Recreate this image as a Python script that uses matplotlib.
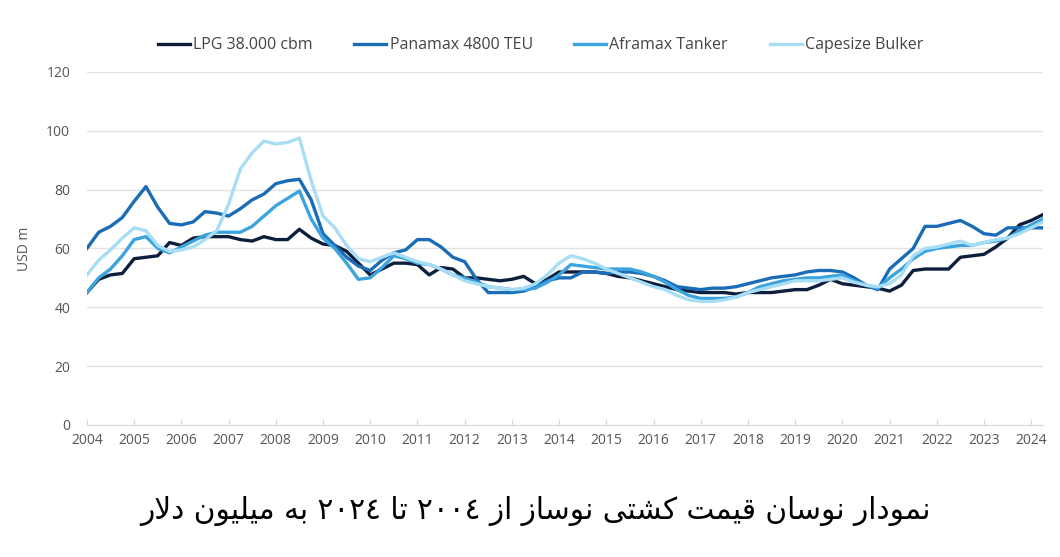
import re
import numpy as np
import matplotlib
matplotlib.use("Agg")
from matplotlib import pyplot as plt

# quarterly values, 2004 Q1 .. 2024 Q2
years = np.arange(2004, 2024.26, 0.25)

lpg = [45, 49.5, 51, 51.5, 56.5, 57, 57.5, 62, 61, 63.5, 64, 64,
       64, 63, 62.5, 64, 63, 63, 66.5, 63.5, 61.5, 61, 59, 55,
       51, 53, 55, 55, 54.5, 51, 53.5, 53, 50, 50, 49.5, 49,
       49.5, 50.5, 48, 49.5, 52, 52, 52, 52, 51.5, 50.5, 50, 49,
       48, 47, 46, 45.5, 45, 45, 45, 44.5, 45, 45, 45, 45.5,
       46, 46, 47.5, 49.5, 48, 47.5, 47, 46.5, 45.5, 47.5, 52.5, 53,
       53, 53, 57, 57.5, 58, 60.5, 63.5, 68, 69.5, 71.5]
panamax = [60, 65.5, 67.5, 70.5, 76, 81, 74, 68.5, 68, 69, 72.5, 72,
           71, 73.5, 76.5, 78.5, 82, 83, 83.5, 76.5, 65, 61, 57, 54,
           52.5, 56, 58.5, 59.5, 63, 63, 60.5, 57, 55.5, 49.5, 45, 45,
           45, 45.5, 47, 49, 50, 50, 52, 52, 51.5, 52, 52, 51.5,
           50.5, 49, 47, 46.5, 46, 46.5, 46.5, 47, 48, 49, 50, 50.5,
           51, 52, 52.5, 52.5, 52, 50, 47.5, 46, 53, 56.5, 60, 67.5,
           67.5, 68.5, 69.5, 67.5, 65, 64.5, 67, 67, 67, 67]
aframax = [45, 50, 53, 57.5, 63, 64, 60, 58.5, 60.5, 62.5, 64.5, 65.5,
           65.5, 65.5, 67.5, 71, 74.5, 77, 79.5, 70, 63.5, 60, 55, 49.5,
           50, 53.5, 57.5, 56.5, 55, 54.5, 53, 51, 50, 48.5, 47, 46.5,
           46, 46, 46.5, 48.5, 51, 54.5, 54, 53.5, 53, 53, 53, 52,
           50.5, 48.5, 46, 44, 43, 43, 43, 43.5, 45, 47, 48, 49,
           49.5, 50, 50, 50.5, 51, 49, 47.5, 46.5, 50, 53, 56.5, 59,
           60, 60.5, 61, 61, 62, 62.5, 63.5, 66, 68, 70]
capesize = [51, 56, 59.5, 63.5, 67, 66, 61, 59, 59.5, 60.5, 63, 66,
            75, 87, 92.5, 96.5, 95.5, 96, 97.5, 83, 71, 67, 61, 56.5,
            55.5, 57, 58.5, 57, 55.5, 54.5, 53, 51, 49, 48, 47, 46.5,
            46, 46.5, 48, 51, 55, 57.5, 56.5, 55, 53, 51.5, 50, 48.5,
            47, 46, 44, 42.5, 42, 42, 42.5, 43.5, 45, 46, 47, 48,
            49, 49, 49, 49.5, 50, 48.5, 47.5, 47, 48, 51, 57.5, 60,
            60.5, 61.5, 62.5, 61, 62, 63, 63.5, 65, 67, 69]

names = ["LPG 38.000 cbm", "Panamax 4800 TEU", "Aframax Tanker", "Capesize Bulker"]
colors = ["#0e1f3d", "#1a6cb6", "#3ba4de", "#a8ddf6"]
title = "نمودار نوسان قیمت کشتی نوساز از ٢٠٠٤ تا ٢٠٢٤ به میلیون دلار"

# --- minimal persian shaping (matplotlib has no bidi / joining) ---
FORMS = {
    "ا": ("\ufe8d", "\ufe8e", None, None),
    "ب": ("\ufe8f", "\ufe90", "\ufe91", "\ufe92"),
    "ت": ("\ufe95", "\ufe96", "\ufe97", "\ufe98"),
    "د": ("\ufea9", "\ufeaa", None, None),
    "ر": ("\ufead", "\ufeae", None, None),
    "ز": ("\ufeaf", "\ufeb0", None, None),
    "س": ("\ufeb1", "\ufeb2", "\ufeb3", "\ufeb4"),
    "ش": ("\ufeb5", "\ufeb6", "\ufeb7", "\ufeb8"),
    "ق": ("\ufed5", "\ufed6", "\ufed7", "\ufed8"),
    "ل": ("\ufedd", "\ufede", "\ufedf", "\ufee0"),
    "م": ("\ufee1", "\ufee2", "\ufee3", "\ufee4"),
    "ن": ("\ufee5", "\ufee6", "\ufee7", "\ufee8"),
    "ه": ("\ufee9", "\ufeea", "\ufeeb", "\ufeec"),
    "و": ("\ufeed", "\ufeee", None, None),
    "ی": ("\ufbfc", "\ufbfd", "\ufbfe", "\ufbff"),
    "ک": ("\ufb8e", "\ufb8f", "\ufb90", "\ufb91"),
}


def shape_fa(s):
    out = []
    i = 0
    while i < len(s):
        c = s[i]
        if c not in FORMS:
            out.append(c)
            i += 1
            continue
        prev = s[i - 1] if i > 0 else " "
        pj = prev in FORMS and FORMS[prev][2] is not None
        nxt = s[i + 1] if i + 1 < len(s) else " "
        if c == "ل" and nxt == "ا":
            out.append("\ufefc" if pj else "\ufefb")
            i += 2
            continue
        nj = FORMS[c][2] is not None and nxt in FORMS
        iso, fin, ini, med = FORMS[c]
        if pj and nj:
            out.append(med)
        elif pj:
            out.append(fin)
        elif nj:
            out.append(ini)
        else:
            out.append(iso)
        i += 1
    vis = "".join(out)[::-1]
    return re.sub("[\u0660-\u0669]+", lambda m: m.group(0)[::-1], vis)


plt.rcParams["font.family"] = ["Open Sans", "DejaVu Sans"]

fig = plt.figure(figsize=(10.6, 5.57), dpi=100)
ax = fig.add_axes([0.082, 0.237, 0.902, 0.634])

series = [lpg, panamax, aframax, capesize]
for vals, name, col in zip(series, names, colors):
    ax.plot(years, vals, color=col, lw=2.4, label=name, solid_joinstyle="round")

ax.set_xlim(2004, 2024.25)
ax.set_ylim(0, 120)
ax.set_yticks(range(0, 121, 20))
ax.set_xticks(range(2004, 2025))
ax.grid(axis="y", color="#e2e2e2", lw=1)
ax.set_axisbelow(True)
for side in ["top", "right", "left"]:
    ax.spines[side].set_visible(False)
ax.spines["bottom"].set_color("#d8d8d8")
ax.tick_params(axis="y", length=0, pad=12, labelsize=10, labelcolor="#555555")
ax.tick_params(axis="x", direction="in", length=4, color="#d8d8d8",
               pad=6, labelsize=10, labelcolor="#555555")
ax.set_ylabel("USD m", fontsize=10, color="#555555", labelpad=10)

fig.legend(loc="center", bbox_to_anchor=(0.51, 0.919), ncol=4, frameon=False,
           fontsize=11.5, handlelength=2.0, handletextpad=0.2, columnspacing=2.6,
           labelcolor="#444444")

fig.text(0.505, 0.083, shape_fa(title), ha="center", va="center",
         fontsize=21.3, family="DejaVu Sans", color="black")

fig.savefig("out.png", dpi=100)
